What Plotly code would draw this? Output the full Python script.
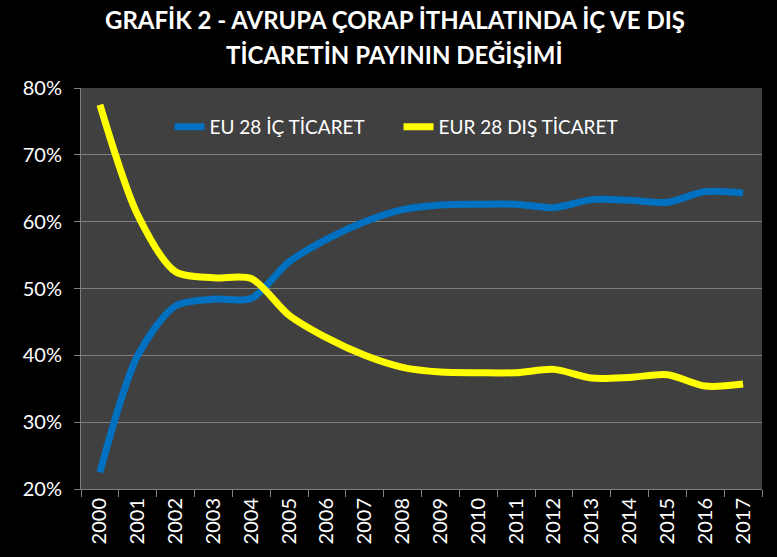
import plotly.graph_objects as go

years = [str(y) for y in range(2000, 2018)]
eu_ic = [22.5, 40.0, 47.4, 48.4, 48.5, 54.0, 57.4, 60.0, 61.8, 62.5, 62.6, 62.6, 62.1, 63.3, 63.2, 62.9, 64.5, 64.3]
eu_dis = [77.5, 61.0, 52.5, 51.6, 51.5, 46.0, 42.6, 40.0, 38.2, 37.5, 37.4, 37.4, 37.9, 36.6, 36.7, 37.1, 35.4, 35.7]
tick_vals = [20, 30, 40, 50, 60, 70, 80]
tick_text = ["20%", "30%", "40%", "50%", "60%", "70%", "80%"]
title_lines = ["GRAFİK 2 - AVRUPA ÇORAP İTHALATINDA İÇ VE DIŞ", "TİCARETİN PAYININ DEĞİŞİMİ"]

font_family = "Lato"

fig = go.Figure()
fig.add_trace(go.Scatter(x=years, y=eu_ic, mode="lines", name="EU 28 İÇ TİCARET",
                         line=dict(color="#0070C0", width=7, shape="spline", smoothing=0.8)))
fig.add_trace(go.Scatter(x=years, y=eu_dis, mode="lines", name="EUR 28 DIŞ TİCARET",
                         line=dict(color="#FFFF00", width=7, shape="spline", smoothing=0.8)))

H_PLOT = 557 - 88 - 68
for i, line in enumerate(title_lines):
    fig.add_annotation(text=f"<b>{line}</b>", xref="paper", yref="paper",
                       x=0.461, y=1 + (88 - 20 - 35 * i) / H_PLOT, xanchor="center", yanchor="middle",
                       showarrow=False, font=dict(size=24, color="white", family=font_family))

fig.update_layout(
    width=777, height=557,
    paper_bgcolor="black", plot_bgcolor="#404040",
    margin=dict(l=81, r=15, t=88, b=68, autoexpand=False),
    font=dict(family=font_family, color="white"),
    showlegend=True,
    legend=dict(orientation="h", x=0.13, y=0.903, xanchor="left", yanchor="middle",
                bgcolor="rgba(0,0,0,0)", font=dict(size=19, color="white", family=font_family),
                itemwidth=30, entrywidth=184),
    xaxis=dict(type="category", range=[-0.5, 17.5], tickson="boundaries", ticks="outside",
               ticklen=7, tickcolor="#808080", showline=True, linecolor="#808080",
               showgrid=False, tickangle=-90, tickfont=dict(size=20, color="white"),
               zeroline=False, automargin=False),
    yaxis=dict(range=[20, 80], tickvals=tick_vals, ticktext=tick_text, ticks="outside",
               ticklen=6, tickcolor="#808080", showline=True, linecolor="#808080",
               gridcolor="#7f7f7f", gridwidth=1, tickfont=dict(size=20, color="white"),
               ticklabelstandoff=8, zeroline=False, automargin=False),
)

fig.write_html("out.html", config={"displayModeBar": False},
               post_script="document.body.style.margin='0';document.body.style.overflow='hidden';")
